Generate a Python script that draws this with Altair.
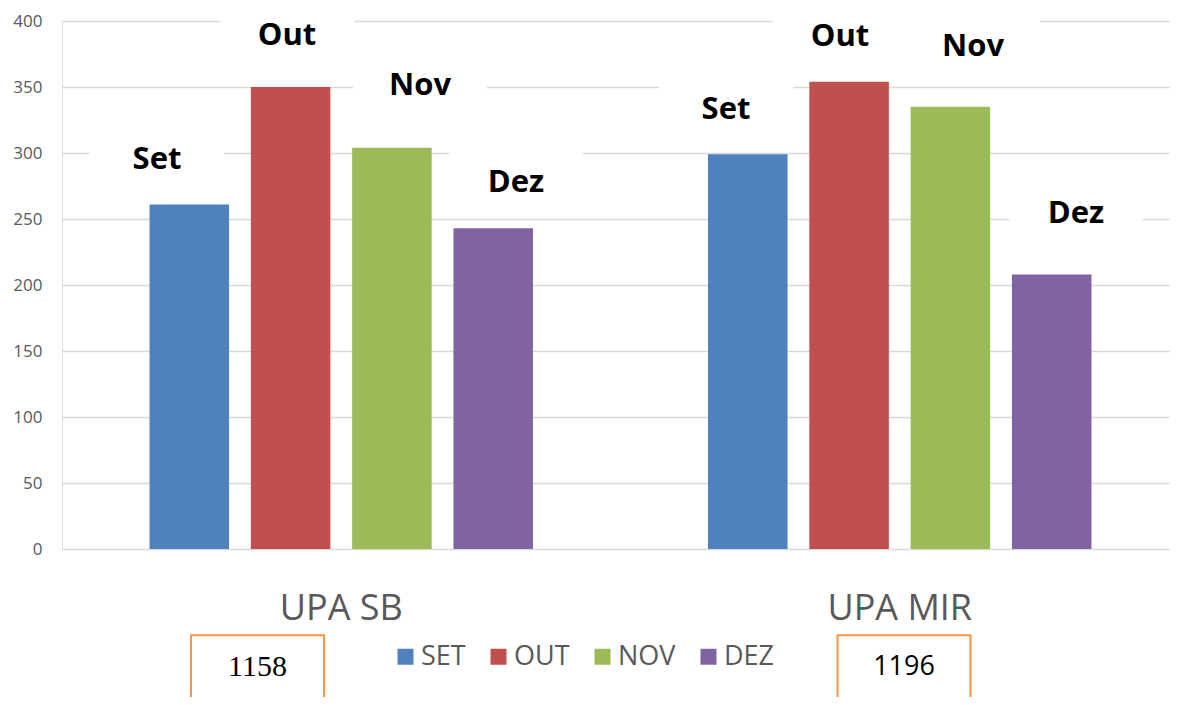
import altair as alt
import pandas as pd

# ---- data ----
groups = ["UPA SB", "UPA MIR"]
months = ["SET", "OUT", "NOV", "DEZ"]
month_labels = ["Set", "Out", "Nov", "Dez"]
upa_sb = [261, 350, 304, 243]
upa_mir = [299, 354, 335, 208]
totals = ["1158", "1196"]

# ---- style ----
colors = ["#4F81BD", "#C0504D", "#9BBB59", "#8064A2"]
W, H = 1108, 528
X_RANGE = 1117                      # band range (gridlines stop at W)
STEP = X_RANGE / len(groups)
# label placement (px): x from group band start, y from bar top
label_offsets = {
    ("UPA SB", "SET"): (95, -44),
    ("UPA SB", "OUT"): (225, -51),
    ("UPA SB", "NOV"): (358, -62),
    ("UPA SB", "DEZ"): (454, -45),
    ("UPA MIR", "SET"): (105.5, -44),
    ("UPA MIR", "OUT"): (219.5, -45),
    ("UPA MIR", "NOV"): (352.5, -60),
    ("UPA MIR", "DEZ"): (455.5, -60),
}
total_style = {
    "UPA SB": {"x": 195.5, "font": "Liberation Serif", "size": 30},
    "UPA MIR": {"x": 283.5, "font": "Open Sans", "size": 27},
}

rows = []
for g, vals in zip(groups, [upa_sb, upa_mir]):
    for m, lab, v in zip(months, month_labels, vals):
        rows.append({"group": g, "month": m, "label": lab, "value": v})
df = pd.DataFrame(rows)
tot_df = pd.DataFrame({"group": groups, "total": totals})

x_enc = alt.X(
    "group:N", sort=groups, title=None,
    scale=alt.Scale(paddingInner=0, paddingOuter=0, range=[0, X_RANGE]),
    axis=alt.Axis(labelFontSize=36, labelFont="Open Sans", labelColor="#595959",
                  labelPadding=42, ticks=False, domain=False, labelAngle=0),
)
y_enc = alt.Y(
    "value:Q", title=None, scale=alt.Scale(domain=[0, 400]),
    axis=alt.Axis(values=list(range(0, 401, 50)), grid=True, gridColor="#D9D9D9",
                  gridWidth=1.5, domain=False, ticks=False, labelPadding=20,
                  labelFontSize=17, labelFont="Open Sans", labelColor="#595959"),
)

bars = alt.Chart(df).mark_bar().encode(
    x=x_enc,
    xOffset=alt.XOffset("month:N", sort=months,
                        scale=alt.Scale(paddingInner=0.215, paddingOuter=0.864)),
    y=y_enc,
    color=alt.Color(
        "month:N", sort=months,
        scale=alt.Scale(domain=months, range=colors),
        legend=alt.Legend(
            title=None, orient="none", legendX=330, legendY=622,
            direction="horizontal", symbolType="square", symbolSize=256,
            symbolStrokeWidth=0, symbolOpacity=1, labelFontSize=27,
            labelFont="Open Sans", labelColor="#595959", columnPadding=19,
            labelOffset=2, padding=0,
        ),
    ),
)

layers_bg = []
layers_fg = []
for (g, m), (ox, oy) in label_offsets.items():
    flt = (alt.datum.group == g) & (alt.datum.month == m)
    box = alt.Chart(df).transform_filter(flt).mark_point(
        shape="M-1,-0.478H1V0.478H-1Z", size=134 ** 2, filled=True,
        fill="white", opacity=1, strokeWidth=0,
    ).encode(x=x_enc, y=y_enc, xOffset=alt.value(ox), yOffset=alt.value(oy))
    txt = alt.Chart(df).transform_filter(flt).mark_text(
        font="Open Sans", fontSize=31, fontWeight="bold", color="black",
        align="center", baseline="middle", dx=ox - STEP / 2, dy=oy,
    ).encode(x=x_enc, y=y_enc, text="label:N")
    layers_bg.append(box)
    layers_fg.append(txt)

tot_layers = []
for g in groups:
    st = total_style[g]
    flt = alt.datum.group == g
    frame = alt.Chart(tot_df).transform_filter(flt).mark_point(
        shape="M-1,-0.75H1V0.75H-1Z", size=133 ** 2, filled=False,
        stroke="#F79646", strokeWidth=2, opacity=1,
    ).encode(x=x_enc, y=alt.value(664), xOffset=alt.value(st["x"]))
    ttxt = alt.Chart(tot_df).transform_filter(flt).mark_text(
        font=st["font"], fontSize=st["size"], color="black",
        align="center", baseline="middle", dx=st["x"] - STEP / 2,
    ).encode(x=x_enc, y=alt.value(646), text="total:N")
    tot_layers += [frame, ttxt]

chart = alt.layer(*layers_bg, bars, *layers_fg, *tot_layers).properties(
    width=W, height=H,
    autosize=alt.AutoSizeParams(type="none"),
    padding={"left": 54, "top": 13, "right": 0, "bottom": 148},
).configure_view(stroke=None).configure(background="white")

chart.save("out.html", embed_options={"renderer": "svg", "actions": False})
